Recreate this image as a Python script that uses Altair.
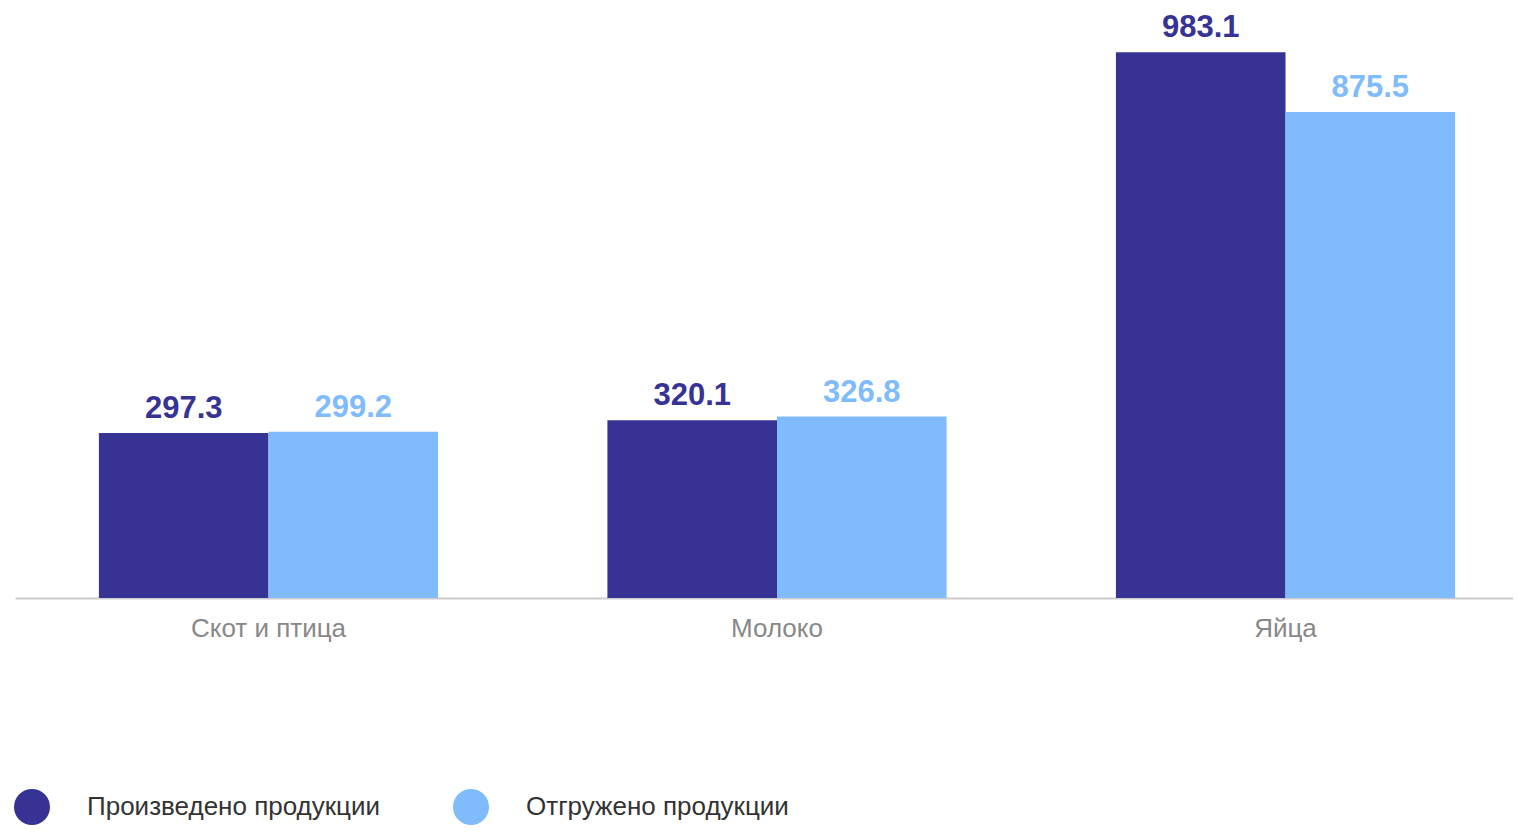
import altair as alt
import pandas as pd

categories = ["Скот и птица", "Молоко", "Яйца"]
series = ["Произведено продукции", "Отгружено продукции"]
produced = [297.3, 320.1, 983.1]
shipped = [299.2, 326.8, 875.5]
colors = ["#363394", "#80BBFB"]

rows = []
for c, p, s in zip(categories, produced, shipped):
    rows.append({"cat": c, "series": series[0], "value": p})
    rows.append({"cat": c, "series": series[1], "value": s})
df = pd.DataFrame(rows)

FONT = "Liberation Sans"

x = alt.X("cat:N", sort=categories, title=None,
          scale=alt.Scale(range=[0, 1524], paddingInner=0.333, paddingOuter=0.165),
          axis=alt.Axis(labelAngle=0, ticks=False, labelPadding=17, labelFontSize=26,
                        labelColor="#888888", labelFont=FONT, domainColor="#CCCCCC",
                        domainWidth=2, grid=False))
xo = alt.XOffset("series:N", sort=series)
y = alt.Y("value:Q", scale=alt.Scale(domain=[0, 1050], nice=False), axis=None)
color = alt.Color("series:N", sort=series,
                  scale=alt.Scale(domain=series, range=colors),
                  legend=alt.Legend(title=None, orient="none", direction="horizontal",
                                    legendX=-1, legendY=774, symbolType="circle",
                                    symbolSize=1296, symbolStrokeWidth=0,
                                    labelFontSize=26, labelFont=FONT, labelColor="#333333",
                                    labelOffset=37, columnPadding=72, padding=0,
                                    labelLimit=0, symbolOpacity=1))

bars = alt.Chart(df).mark_bar(opacity=1).encode(x=x, xOffset=xo, y=y, color=color)
labels = alt.Chart(df).mark_text(baseline="alphabetic", dy=-15, fontSize=31,
                                 fontWeight="bold", font=FONT).encode(
    x=x, xOffset=xo, y=y, color=color, text=alt.Text("value:Q", format=".1f"))

chart = (bars + labels).properties(
    width=1498, height=583,
    autosize=alt.AutoSizeParams(type="none"),
    padding={"left": 7, "top": 7, "right": 0, "bottom": 227},
).configure(background="white").configure_view(strokeWidth=0, stroke=None)

chart.save("out.html", embed_options={"renderer": "svg", "actions": False})
